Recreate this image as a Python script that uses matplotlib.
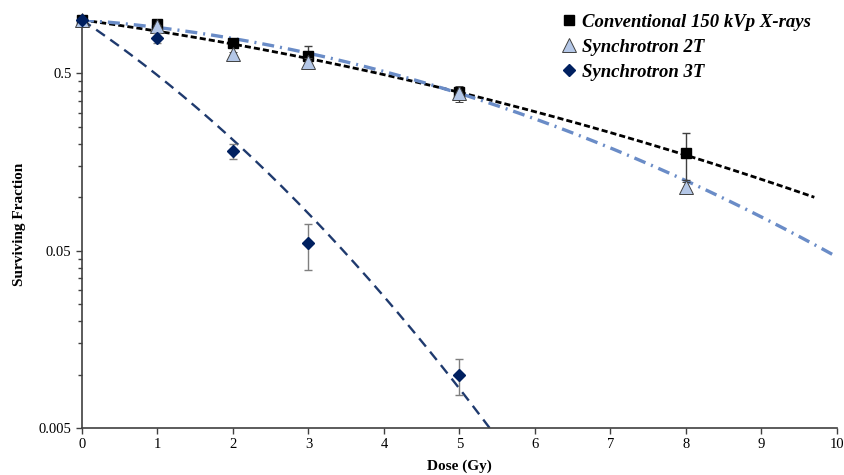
import numpy as np
import matplotlib
matplotlib.use("Agg")
import matplotlib.pyplot as plt
from matplotlib.ticker import FixedLocator, NullFormatter

# measured points (dose in Gy, surviving fraction, symmetric error)
conv_dose = [0, 1, 2, 3, 5, 8]
conv_sf = [1.0, 0.95, 0.745, 0.63, 0.39, 0.177]
conv_err = [0.0, 0.02, 0.03, 0.08, 0.02, 0.052]

s2t_dose = [0, 1, 2, 3, 5, 8]
s2t_sf = [1.0, 0.92, 0.64, 0.58, 0.385, 0.114]
s2t_err = [0.02, 0.02, 0.02, 0.03, 0.04, 0.008]

s3t_dose = [0, 1, 2, 3, 5]
s3t_sf = [1.0, 0.79, 0.182, 0.055, 0.0100]
s3t_err = [0.0, 0.05, 0.018, 0.016, 0.0023]

# linear-quadratic fits S = exp(-aD - bD^2)
conv_ab = (0.1355, 0.0105)
s2t_ab = (0.0737, 0.0234)
s3t_ab = (0.659, 0.0597)
conv_fit_max = 9.7
s2t_fit_max = 10.0
s3t_fit_max = 5.4

labels = ["Conventional 150 kVp X-rays", "Synchrotron 2T", "Synchrotron 3T"]
x_ticks = list(range(0, 11))
y_major = [0.005, 0.05, 0.5]

SERIF = "Liberation Serif"


def lq(ab, dmax):
    d = np.linspace(0, dmax, 200)
    return d, np.exp(-ab[0] * d - ab[1] * d ** 2)


fig = plt.figure(figsize=(8.45, 4.75), dpi=100)
ax = fig.add_axes([0.097, 0.099, 0.8935, 0.859])
ax.set_yscale("log")
ax.set_xlim(0, 10)
ax.set_ylim(0.005, 1.0)

# fit lines
d, s = lq(conv_ab, conv_fit_max)
ax.plot(d, s, color="black", lw=2.0, dashes=(2.2, 1.1), zorder=2)
d, s = lq(s2t_ab, s2t_fit_max)
ax.plot(d, s, color="#6a8cc7", lw=2.4, dashes=(3.6, 1.8, 0.6, 1.8), zorder=2)
d, s = lq(s3t_ab, s3t_fit_max)
ax.plot(d, s, color="#1f3a6e", lw=1.7, dashes=(4.5, 2.8), zorder=2)

# data with error bars
h1 = ax.errorbar(conv_dose, conv_sf, yerr=conv_err, fmt="s", ms=7.5, color="black",
                 mec="black", ecolor="#404040", elinewidth=1.0, capsize=3, zorder=3)
h2 = ax.errorbar(s2t_dose, s2t_sf, yerr=s2t_err, fmt="^", ms=9.5, color="#b4c7e7",
                 mec="#404040", mew=0.7, ecolor="#404040", elinewidth=1.0, capsize=3, zorder=4)
h3 = ax.errorbar(s3t_dose, s3t_sf, yerr=s3t_err, fmt="D", ms=6.5, color="#002060",
                 mec="#002060", ecolor="#7f7f7f", elinewidth=1.0, capsize=3, zorder=5)
for h in (h1, h2, h3):
    h.lines[0].set_clip_on(False)

# axes styling
for side in ("top", "right"):
    ax.spines[side].set_visible(False)
for side in ("left", "bottom"):
    ax.spines[side].set_color("#404040")
    ax.spines[side].set_linewidth(1.2)

ax.set_xticks(x_ticks)
ax.set_yticks(y_major)
ax.set_yticklabels(["0.005", "0.05", "0.5"])
minor = []
for base in y_major:
    minor += [base * k for k in range(2, 10)]
ax.yaxis.set_minor_locator(FixedLocator([m for m in minor if m < 1.0]))
ax.yaxis.set_minor_formatter(NullFormatter())
ax.tick_params(axis="both", which="major", direction="out", length=4, width=1.0,
               color="#404040", labelsize=10.5)
ax.tick_params(axis="y", which="minor", direction="out", length=3, width=1.0, color="#404040")
for lab in ax.get_xticklabels() + ax.get_yticklabels():
    lab.set_fontfamily(SERIF)

ax.set_xlabel("Dose (Gy)", fontfamily=SERIF, fontweight="bold", fontsize=11, labelpad=6)
ax.set_ylabel("Surviving Fraction", fontfamily=SERIF, fontweight="bold", fontsize=11, labelpad=9)

# legend sits in the top-right corner, level with the top of the axes
leg = fig.legend([h1[0], h2[0], h3[0]], labels, loc="upper left",
                 bbox_to_anchor=(0.657, 0.985), frameon=False, handlelength=0.8,
                 handletextpad=0.3, labelspacing=0.42, borderaxespad=0, borderpad=0.35,
                 prop={"family": SERIF, "weight": "bold", "style": "italic", "size": 13.5})

fig.savefig("out.png", dpi=100)
